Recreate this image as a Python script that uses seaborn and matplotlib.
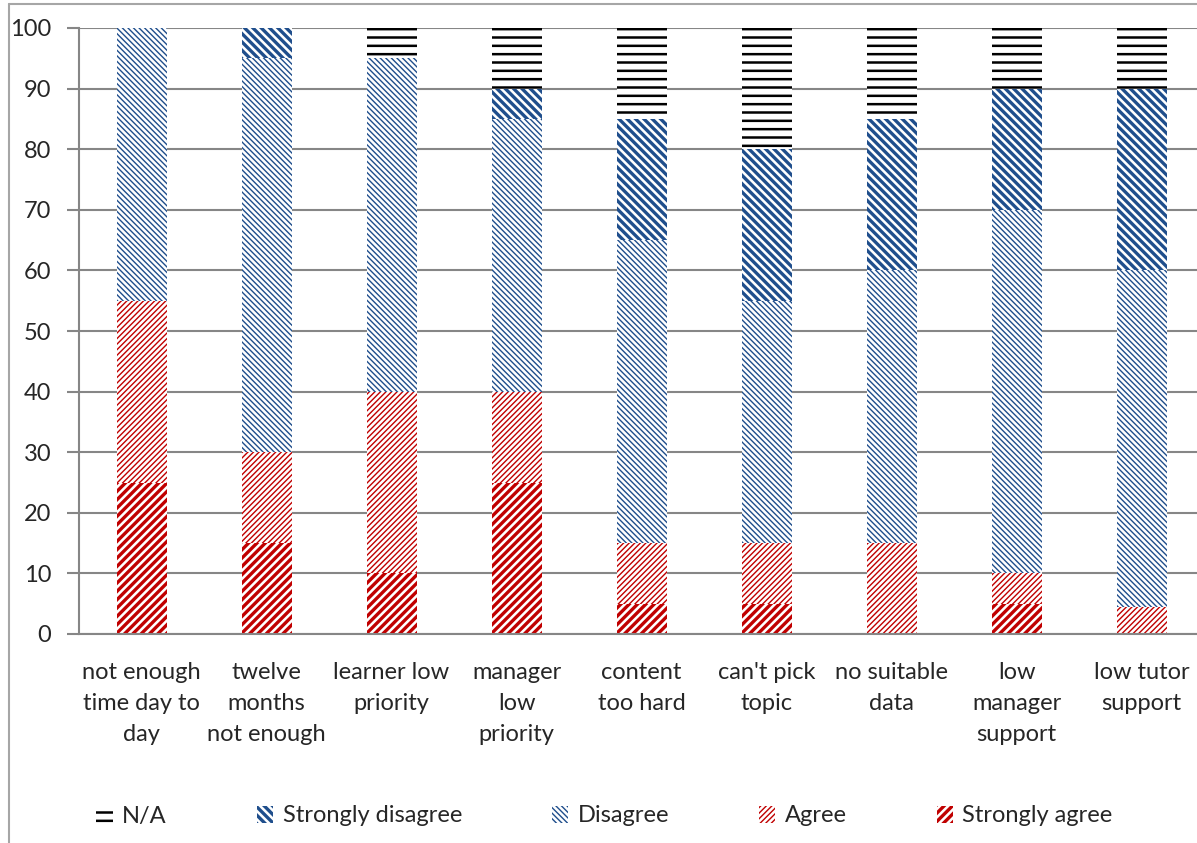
import matplotlib
matplotlib.use("Agg")
import matplotlib.pyplot as plt
import matplotlib.patches as mpatches
from matplotlib.lines import Line2D
import seaborn as sns
import numpy as np

categories = ["not enough\ntime day to\nday", "twelve\nmonths\nnot enough",
              "learner low\npriority", "manager\nlow\npriority", "content\ntoo hard",
              "can't pick\ntopic", "no suitable\ndata", "low\nmanager\nsupport",
              "low tutor\nsupport"]
strongly_agree = [25, 15, 10, 25, 5, 5, 0, 5, 0]
agree = [30, 15, 30, 15, 10, 10, 15, 5, 4.5]
disagree = [45, 65, 55, 45, 50, 40, 45, 60, 55.5]
strongly_disagree = [0, 5, 0, 5, 20, 25, 25, 20, 30]
not_applicable = [0, 0, 5, 10, 15, 20, 15, 10, 10]

blue = "#1f4e8c"
red = "#c00000"
# name, values, colour, hatch, hatch width
layers = [
    ("Strongly agree", strongly_agree, red, "////", 2.4),
    ("Agree", agree, red, "//////", 1.0),
    ("Disagree", disagree, blue, "\\" * 6, 1.0),
    ("Strongly disagree", strongly_disagree, blue, "\\" * 4, 2.4),
    ("N/A", not_applicable, "black", "--", 1.8),
]

sns.set_style("white")
plt.rcParams['font.family'] = ['Lato', 'DejaVu Sans']

fig = plt.figure(figsize=(11.97, 8.43), dpi=100)
ax = fig.add_axes([79 / 1197, 1 - 634 / 843, 1125 / 1197, 606 / 843])

cum = np.cumsum([np.array(l[1], dtype=float) for l in layers], axis=0)

# draw from the top of the stack down, each bar covering the one before
for i in range(len(layers) - 1, -1, -1):
    name, vals, col, hatch, hlw = layers[i]
    n_before = len(ax.patches)
    with plt.rc_context({'hatch.linewidth': hlw}):
        sns.barplot(x=list(range(len(categories))), y=cum[i], facecolor="white",
                    edgecolor=col, hatch=hatch, linewidth=0, width=0.4, ax=ax,
                    native_scale=True)
        for p in ax.patches[n_before:]:
            p.set_facecolor("white")
            p.set_edgecolor(col)
            p.set_hatch(hatch)
            p.set_linewidth(0)
            if hasattr(p, "set_hatch_linewidth"):
                p.set_hatch_linewidth(hlw)

ax.set_xlim(-0.5, 8.5)
ax.set_ylim(0, 100)
ax.set_yticks(range(0, 101, 10))
ax.set_xticks(range(len(categories)))
ax.set_xticklabels(categories, fontsize=17, linespacing=1.6)
ax.set_xticks(np.arange(-0.5, 9, 1), minor=True)
ax.tick_params(axis="x", which="major", length=0, pad=20)
ax.tick_params(axis="x", which="minor", length=8, width=1.5, color="#868686", direction="out")
ax.tick_params(axis="y", length=9, width=1.5, color="#868686", direction="out",
               labelsize=17, pad=11, left=True)
ax.yaxis.grid(True, color="#868686", linewidth=1.5)
ax.set_axisbelow(True)
for s in ["top", "right"]:
    ax.spines[s].set_visible(False)
for s in ["left", "bottom"]:
    ax.spines[s].set_color("#868686")
    ax.spines[s].set_linewidth(1.5)
ax.set_xlabel("")
ax.set_ylabel("")

handles = []
for name, vals, col, hatch, hlw in reversed(layers):
    handles.append(mpatches.Patch(facecolor="white", edgecolor=col, hatch=hatch,
                                  linewidth=0, label=name))
leg = fig.legend(handles=handles, loc="center", bbox_to_anchor=(0.505, 1 - 816 / 843), ncol=5,
                 frameon=False, fontsize=17, handlelength=0.7, handleheight=0.7,
                 handletextpad=0.4, columnspacing=3.8)
for lh, layer in zip(leg.legend_handles, list(reversed(layers))):
    lh.set_edgecolor(layer[2])
    lh.set_hatch(layer[3])
    if hasattr(lh, "set_hatch_linewidth"):
        lh.set_hatch_linewidth(layer[4])

# chart area border (top and left visible)
fig.add_artist(Line2D([9 / 1197, 1.0], [1 - 4 / 843, 1 - 4 / 843], transform=fig.transFigure,
                      color="#a6a6a6", linewidth=1.5))
fig.add_artist(Line2D([9 / 1197, 9 / 1197], [0, 1 - 4 / 843], transform=fig.transFigure,
                      color="#a6a6a6", linewidth=1.5))

fig.savefig("out.png", dpi=100)
